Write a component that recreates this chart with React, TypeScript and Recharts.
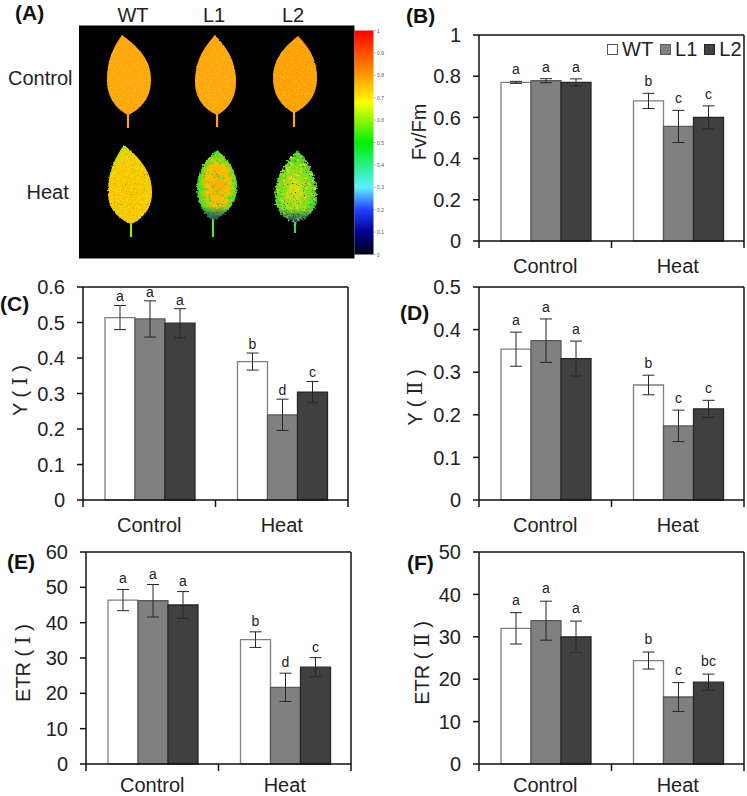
import React from 'react';
import { BarChart, Bar, XAxis, YAxis, ErrorBar, LabelList, Legend, CartesianGrid } from 'recharts';

const FONT = '"Liberation Sans", Arial, sans-serif';
const LABEL_FONT = '"Liberation Sans", "DejaVu Serif", serif';

const categories = ['Control', 'Heat'];
const lines = ['WT', 'L1', 'L2'];
const fills = ['#ffffff', '#808080', '#404040'];
const strokes = ['#7f7f7f', '#5a5a5a', '#262626'];

const bWT = [0.77, 0.68];
const bL1 = [0.778, 0.556];
const bL2 = [0.77, 0.6];
const bErrWT = [0.005, 0.037];
const bErrL1 = [0.01, 0.078];
const bErrL2 = [0.017, 0.056];
const bLetters = [['a', 'b'], ['a', 'c'], ['a', 'c']];
const bTicks = [0, 0.2, 0.4, 0.6, 0.8, 1];

const cWT = [0.514, 0.39];
const cL1 = [0.51, 0.24];
const cL2 = [0.498, 0.304];
const cErrWT = [0.034, 0.024];
const cErrL1 = [0.051, 0.044];
const cErrL2 = [0.041, 0.03];
const cLetters = [['a', 'b'], ['a', 'd'], ['a', 'c']];
const cTicks = [0, 0.1, 0.2, 0.3, 0.4, 0.5, 0.6];

const dWT = [0.354, 0.27];
const dL1 = [0.374, 0.174];
const dL2 = [0.332, 0.214];
const dErrWT = [0.04, 0.023];
const dErrL1 = [0.051, 0.037];
const dErrL2 = [0.041, 0.02];
const dLetters = [['a', 'b'], ['a', 'c'], ['a', 'c']];
const dTicks = [0, 0.1, 0.2, 0.3, 0.4, 0.5];

const eWT = [46.4, 35.2];
const eL1 = [46.2, 21.7];
const eL2 = [45, 27.4];
const eErrWT = [3, 2.2];
const eErrL1 = [4.6, 4];
const eErrL2 = [3.8, 2.7];
const eLetters = [['a', 'b'], ['a', 'd'], ['a', 'c']];
const eTicks = [0, 10, 20, 30, 40, 50, 60];

const fWT = [32, 24.4];
const fL1 = [33.8, 15.8];
const fL2 = [30, 19.3];
const fErrWT = [3.7, 2];
const fErrL1 = [4.6, 3.4];
const fErrL2 = [3.7, 1.9];
const fLetters = [['a', 'b'], ['a', 'c'], ['a', 'bc']];
const fTicks = [0, 10, 20, 30, 40, 50];

const colorbarLabels = ['1', '0.9', '0.8', '0.7', '0.6', '0.5', '0.4', '0.3', '0.2', '0.1', '0'];
const colorbarStops: [number, string][] = [
  [0, '#ff0000'], [0.2, '#ff9a00'], [0.32, '#ffff00'], [0.5, '#00f000'], [0.62, '#30f0a0'],
  [0.7, '#60f0ff'], [0.8, '#2040ff'], [0.9, '#000090'], [1, '#000010'],
];

type Row = Record<string, any>;
function buildRows(vals: number[][], errs: number[][], letters: string[][]): Row[] {
  return categories.map((c, i) => {
    const r: Row = { name: c };
    lines.forEach((l, k) => {
      r[l] = vals[k][i];
      r[l + 'Err'] = errs[k][i];
      r[l + 'Letter'] = letters[k][i];
    });
    return r;
  });
}

const GEOM_W = 265;

function Panel(p: {
  rows: Row[]; ticks: number[]; left: number; top: number; plotH: number;
  ylabel: string; ldx: number; ldy: number; legend?: boolean; gap?: number; lift?: number;
}) {
  const max = p.ticks[p.ticks.length - 1];
  const axisW = 78;
  const mTop = 20;
  const k = p.plotH / max;
  const gap = p.gap ?? 6;
  const lift = p.lift ?? 0;
  const axisH = 42 - lift * 2;
  const band = GEOM_W / categories.length;
  const renderTick = (t: any) => (
    <g>
      <line x1={t.x - band / 2} x2={t.x - band / 2} y1={t.y - 18} y2={t.y - 11} stroke="#111" strokeWidth={1.5} />
      {t.index === categories.length - 1 ? (
        <line x1={t.x + band / 2} x2={t.x + band / 2} y1={t.y - 18} y2={t.y - 11} stroke="#111" strokeWidth={1.5} />
      ) : null}
      <text x={t.x} y={t.y + 14 - lift} textAnchor="middle" fontSize={20} fill="#222" fontFamily={FONT}>{t.payload.value}</text>
    </g>
  );
  return (
    <div style={{ position: 'absolute', left: p.left - axisW, top: p.top - mTop }}>
      <BarChart
        width={axisW + GEOM_W + 3}
        height={mTop + p.plotH + axisH}
        data={p.rows}
        margin={{ top: mTop, right: 3, bottom: 0, left: 0 }}
        barCategoryGap={22}
        barGap={0}
      >
        <CartesianGrid stroke="#111" strokeWidth={1.5} strokeDasharray=""
          horizontalCoordinatesGenerator={(o: any) => [o.offset.top]}
          verticalCoordinatesGenerator={(o: any) => [o.offset.left + o.offset.width]} />
        <XAxis dataKey="name" height={axisH} tickSize={0} tickMargin={18} stroke="#111" strokeWidth={1.5}
          tick={renderTick} tickLine={false} interval={0} />
        <YAxis width={axisW} domain={[0, max]} ticks={p.ticks} interval={0} tickSize={6} tickMargin={12}
          stroke="#111" strokeWidth={1.5}
          tick={{ fontSize: 20, fill: '#222', fontFamily: FONT, stroke: 'none' } as any}
          label={{ value: p.ylabel, angle: -90, position: 'center', dx: p.ldx, dy: p.ldy,
            style: { fontSize: 20, fill: '#222', fontFamily: LABEL_FONT, stroke: 'none' } } as any} />
        {p.legend ? (
          <Legend layout="horizontal" verticalAlign="middle" align="center"
            wrapperStyle={{ position: 'absolute', left: 206, top: 22, width: 140, height: 24, bottom: 'auto', right: 'auto' }}
            content={() => (
              <div style={{ display: 'flex', alignItems: 'center', fontFamily: FONT, fontSize: 20, color: '#222', lineHeight: '24px' }}>
                {lines.map((l, i) => (
                  <React.Fragment key={l}>
                    <span style={{ display: 'inline-block', boxSizing: 'border-box', width: 11, height: 11,
                      background: fills[i], border: `1px solid ${i === 0 ? '#555' : strokes[i]}`, marginRight: 4, marginLeft: i ? 7 : 0 }} />
                    <span>{l}</span>
                  </React.Fragment>
                ))}
              </div>
            )} />
        ) : null}
        {lines.map((l, i) => (
          <Bar key={l} dataKey={l} fill={fills[i]} stroke={strokes[i]} strokeWidth={1.3} isAnimationActive={false}>
            <ErrorBar dataKey={l + 'Err'} direction="y" width={6} stroke="#262626" strokeWidth={1} isAnimationActive={false} />
            <LabelList dataKey={l + 'Letter'} content={(q: any) => (
              <text x={q.x + q.width / 2} y={q.y - p.rows[q.index][l + 'Err'] * k - gap}
                textAnchor="middle" fontSize={14} fill="#222" fontFamily={FONT}>{q.value}</text>
            )} />
          </Bar>
        ))}
      </BarChart>
    </div>
  );
}

function leafPath(ax: number, ay: number, bx: number, by: number, lx: number, rx: number, wy: number) {
  const up = wy - ay;
  const dn = by - wy;
  return `M${ax} ${ay} C${ax + 0.45 * (rx - ax)} ${ay + 0.22 * up} ${rx} ${wy - 0.5 * up} ${rx} ${wy} `
    + `C${rx} ${wy + 0.62 * dn} ${bx + 0.35 * (rx - bx)} ${by - 0.1 * dn} ${bx} ${by} `
    + `C${bx - 0.35 * (bx - lx)} ${by - 0.1 * dn} ${lx} ${wy + 0.62 * dn} ${lx} ${wy} `
    + `C${lx} ${wy - 0.5 * up} ${ax - 0.45 * (ax - lx)} ${ay + 0.22 * up} ${ax} ${ay} Z`;
}

const leaves = [
  { id: 'c1', geo: [122, 35, 128, 115, 107, 151, 80], stem: 128, fill: '#ffa510', stemC: '#ffa020', f: 'spO', tip: false },
  { id: 'c2', geo: [215, 35, 217, 115, 195, 236, 82], stem: 127, fill: '#ffa510', stemC: '#ffa020', f: 'spO', tip: false },
  { id: 'c3', geo: [298, 36, 294, 113, 273, 317, 78], stem: 127, fill: '#ff9f08', stemC: '#ffa020', f: 'spO', tip: false },
  { id: 'h1', geo: [124, 145, 131, 224, 108, 152, 193], stem: 237, fill: 'url(#gH1)', stemC: '#a0e020', f: 'spY', tip: false },
  { id: 'h2', geo: [217, 150, 213, 220, 197, 237, 187], stem: 237, fill: 'url(#gH2)', stemC: '#60e040', f: 'spG', tip: true },
  { id: 'h3', geo: [298, 150, 295, 223, 275, 317, 197], stem: 233, fill: 'url(#gH3)', stemC: '#50d050', f: 'spB', tip: true },
];

function speckFilter(id: string, freq: number, rgb: number[], slope: number, off: number, rgb2: number[], off2: number, disp: number) {
  return (
    <filter id={id} x="-10%" y="-10%" width="120%" height="120%" colorInterpolationFilters="sRGB">
      <feTurbulence type="fractalNoise" baseFrequency={0.5} numOctaves={2} seed={3} result="edge" />
      <feDisplacementMap in="SourceGraphic" in2="edge" scale={disp} xChannelSelector="R" yChannelSelector="G" result="src" />
      <feTurbulence type="fractalNoise" baseFrequency={freq} numOctaves={3} seed={7} result="n" />
      <feColorMatrix in="n" type="matrix"
        values={`0 0 0 0 ${rgb[0]} 0 0 0 0 ${rgb[1]} 0 0 0 0 ${rgb[2]} ${slope} 0 0 0 ${off}`} result="a" />
      <feComposite in="a" in2="src" operator="in" result="a2" />
      <feTurbulence type="fractalNoise" baseFrequency={0.9} numOctaves={1} seed={11} result="m" />
      <feColorMatrix in="m" type="matrix"
        values={`0 0 0 0 ${rgb2[0]} 0 0 0 0 ${rgb2[1]} 0 0 0 0 ${rgb2[2]} 0 6 0 0 ${off2}`} result="b" />
      <feComposite in="b" in2="src" operator="in" result="b2" />
      <feMerge result="all">
        <feMergeNode in="src" />
        <feMergeNode in="a2" />
        <feMergeNode in="b2" />
      </feMerge>
      <feGaussianBlur in="all" stdDeviation={0.45} />
    </filter>
  );
}

function PanelA() {
  const barTop = 30.5;
  const barH = 224;
  return (
    <svg width={400} height={265} style={{ position: 'absolute', left: 0, top: 0 }}>
      <defs>
        <linearGradient id="cbar" x1="0" y1="0" x2="0" y2="1">
          {colorbarStops.map(([o, c]) => <stop key={o} offset={o} stopColor={c} />)}
        </linearGradient>
        <radialGradient id="gH1" cx="50%" cy="62%" r="62%">
          <stop offset="0" stopColor="#ffbc00" /><stop offset="0.72" stopColor="#ffc400" /><stop offset="1" stopColor="#c4e000" />
        </radialGradient>
        <radialGradient id="gH2" cx="52%" cy="50%" r="58%">
          <stop offset="0" stopColor="#ffac08" /><stop offset="0.5" stopColor="#ffc000" /><stop offset="0.78" stopColor="#60e020" /><stop offset="1" stopColor="#20c040" />
        </radialGradient>
        <radialGradient id="gH3" cx="48%" cy="55%" r="60%">
          <stop offset="0" stopColor="#d8e010" /><stop offset="0.6" stopColor="#70e020" /><stop offset="1" stopColor="#20c040" />
        </radialGradient>
        <linearGradient id="gTip" x1="0" y1="0" x2="0" y2="1">
          <stop offset="0.8" stopColor="#102080" stopOpacity={0} /><stop offset="1" stopColor="#102080" stopOpacity={0.85} />
        </linearGradient>
        {speckFilter('spO', 0.7, [1, 0.78, 0.1], 3, -1.55, [0.7, 0.8, 0.2], -4.0, 2)}
        {speckFilter('spY', 0.6, [0.85, 0.95, 0.1], 4, -2.0, [0.2, 0.6, 0.2], -4.0, 2.5)}
        {speckFilter('spG', 0.25, [0.2, 0.9, 0.2], 5, -2.8, [0.05, 0.1, 0.4], -4.1, 4)}
        {speckFilter('spB', 0.3, [1, 0.85, 0.1], 5, -2.8, [0.05, 0.1, 0.3], -3.9, 7)}
      </defs>
      <rect x={79} y={25.5} width={275.5} height={233} fill="#000" />
      {leaves.map((lf) => {
        const [ax, ay, bx, by, lx, rx, wy] = lf.geo;
        const d = leafPath(ax, ay, bx, by, lx, rx, wy);
        return (
          <g key={lf.id}>
            <line x1={bx} y1={by - 2} x2={bx} y2={lf.stem} stroke={lf.stemC} strokeWidth={2.2} />
            <path d={d} fill={lf.fill} filter={`url(#${lf.f})`} />
            {lf.tip ? <path d={d} fill="url(#gTip)" filter={`url(#${lf.f})`} /> : null}
          </g>
        );
      })}
      <rect x={354.5} y={barTop} width={19} height={barH} fill="url(#cbar)" />
      {colorbarLabels.map((t, i) => {
        const y = barTop + (barH * i) / (colorbarLabels.length - 1);
        return (
          <g key={t}>
            <line x1={373.5} x2={376} y1={y} y2={y} stroke="#999" strokeWidth={0.6} />
            <text x={377} y={y + 2} fontSize={5} fill="#555" fontFamily={FONT}>{t}</text>
          </g>
        );
      })}
      <g fontFamily={FONT} fontSize={20} fill="#222">
        <text x={133} y={22} textAnchor="middle">WT</text>
        <text x={214} y={22} textAnchor="middle">L1</text>
        <text x={293} y={22} textAnchor="middle">L2</text>
        <text x={8} y={84.5}>Control</text>
        <text x={26.5} y={199}>Heat</text>
      </g>
    </svg>
  );
}

const bRows = buildRows([bWT, bL1, bL2], [bErrWT, bErrL1, bErrL2], bLetters);
const cRows = buildRows([cWT, cL1, cL2], [cErrWT, cErrL1, cErrL2], cLetters);
const dRows = buildRows([dWT, dL1, dL2], [dErrWT, dErrL1, dErrL2], dLetters);
const eRows = buildRows([eWT, eL1, eL2], [eErrWT, eErrL1, eErrL2], eLetters);
const fRows = buildRows([fWT, fL1, fL2], [fErrWT, fErrL1, fErrL2], fLetters);

const panelTags: [string, number, number][] = [
  ['(A)', 15, 20], ['(B)', 406, 23], ['(C)', 0, 311], ['(D)', 400, 320], ['(E)', 7, 569], ['(F)', 407, 570],
];

export default function App() {
  return (
    <div style={{ position: 'absolute', left: 0, top: 0, width: 747, height: 796, background: '#fff', overflow: 'hidden' }}>
      <PanelA />
      <Panel rows={bRows} ticks={bTicks} left={479} top={35} plotH={206} ylabel="Fv/Fm" ldx={-21} ldy={-6} legend gap={7} />
      <Panel rows={cRows} ticks={cTicks} left={83} top={287} plotH={213} ylabel="Y ( Ⅰ )" ldx={-24} ldy={-3} gap={4} />
      <Panel rows={dRows} ticks={dTicks} left={479} top={287} plotH={213} ylabel="Y ( Ⅱ )" ldx={-25} ldy={4} gap={7} />
      <Panel rows={eRows} ticks={eTicks} left={86} top={552} plotH={212} ylabel="ETR ( Ⅰ )" ldx={-24} ldy={5} gap={6} lift={4} />
      <Panel rows={fRows} ticks={fTicks} left={479} top={552} plotH={212} ylabel="ETR ( Ⅱ )" ldx={-18} ldy={5} gap={8} lift={4} />
      <svg width={747} height={796} style={{ position: 'absolute', left: 0, top: 0, pointerEvents: 'none' }}>
        {panelTags.map(([t, x, y]) => (
          <text key={t} x={x} y={y} fontFamily={FONT} fontWeight="bold" fontSize={21} fill="#111">{t}</text>
        ))}
      </svg>
    </div>
  );
}
